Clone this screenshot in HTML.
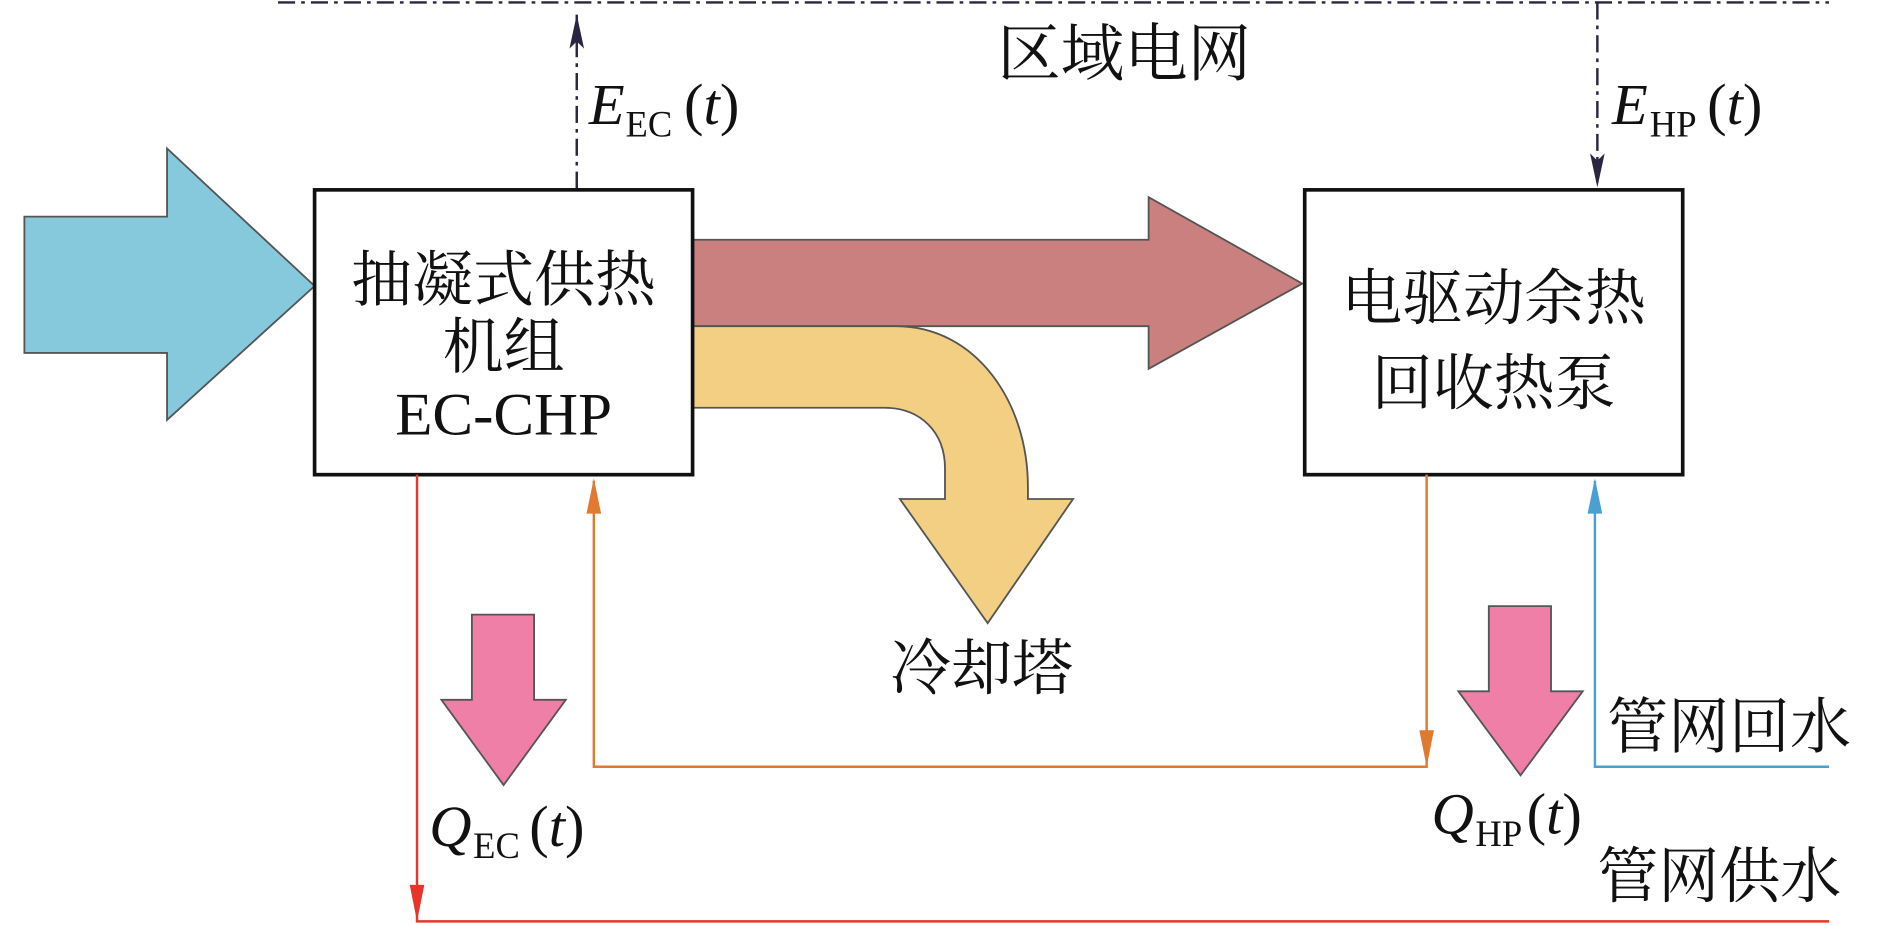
<!DOCTYPE html>
<html><head><meta charset="utf-8"><style>
html,body{margin:0;padding:0;background:#fff;width:1890px;height:925px;overflow:hidden}
svg{display:block}
text{font-family:"Liberation Serif","Noto Serif CJK SC",serif;fill:#111}
</style></head><body>
<svg width="1890" height="925" viewBox="0 0 1550 760" preserveAspectRatio="none" xmlns="http://www.w3.org/2000/svg">
<defs>
<marker id="ad" markerWidth="10" markerHeight="14" refX="5" refY="13" orient="auto-start-reverse" markerUnits="userSpaceOnUse" viewBox="0 0 10 14"><path d="M0,0 L5,14 L10,0 L5,3 Z" fill="context-stroke"/></marker>
</defs>
<!-- top grid line -->
<line x1="228" y1="2" x2="1500" y2="2" stroke="#2a2540" stroke-width="2" stroke-dasharray="14,5,3,5"/>
<!-- E arrows -->
<line x1="473" y1="155" x2="473" y2="12" stroke="#2a2540" stroke-width="2" stroke-dasharray="14,5,3,5"/>
<path d="M467,40 L473,12 L479,40 L473,34 Z" fill="#2a2540"/>
<line x1="1310" y1="2" x2="1310" y2="150" stroke="#2a2540" stroke-width="2" stroke-dasharray="14,5,3,5"/>
<path d="M1304,126 L1310,154 L1316,126 L1310,132 Z" fill="#2a2540"/>
<text x="483" y="102" font-size="48" font-style="italic">E</text><text x="513" y="112" font-size="30">EC</text><text x="561" y="102" font-size="48">(<tspan font-style="italic">t</tspan>)</text>
<text x="1322" y="102" font-size="48" font-style="italic">E</text><text x="1353" y="112" font-size="30">HP</text><text x="1400" y="102" font-size="48">(<tspan font-style="italic">t</tspan>)</text>
<text x="818" y="62" font-size="52">区域电网</text>
<!-- blue input arrow -->
<polygon points="20,178 137,178 137,122 258,235 137,345 137,290 20,290" fill="#86c8dc" stroke="#555" stroke-width="1.5"/>
<!-- red-brown arrow -->
<polygon points="566,197 942,197 942,162 1068,233 942,303 942,268 566,268" fill="#cb8080" stroke="#555" stroke-width="1.5"/>
<!-- yellow curved arrow -->
<path d="M566,268 L735,268 C800,268 843,330 843,400 L843,410 L880,410 L810,512 L738,410 L775,410 L775,385 C775,355 755,335 725,335 L566,335 Z" fill="#f2cf82" stroke="#555" stroke-width="1.5"/>
<!-- boxes -->
<rect x="258" y="156" width="310" height="234" fill="#fff" stroke="#111" stroke-width="3"/>
<rect x="1070" y="156" width="310" height="234" fill="#fff" stroke="#111" stroke-width="3"/>
<text x="413" y="247" font-size="50" text-anchor="middle">抽凝式供热</text>
<text x="413" y="302" font-size="50" text-anchor="middle">机组</text>
<text x="413" y="357" font-size="50" text-anchor="middle">EC-CHP</text>
<text x="1225" y="262" font-size="50" text-anchor="middle">电驱动余热</text>
<text x="1225" y="332" font-size="50" text-anchor="middle">回收热泵</text>
<text x="805" y="566" font-size="50" text-anchor="middle">冷却塔</text>
<!-- red supply line -->
<polyline points="342,390 342,757 1500,757" fill="none" stroke="#e8352a" stroke-width="2"/>
<path d="M336,727 L342,757 L348,727 Z" fill="#e8352a"/>
<!-- orange return to EC -->
<polyline points="1170,390 1170,630 487,630 487,395" fill="none" stroke="#e07a30" stroke-width="2"/>
<path d="M1164,600 L1170,630 L1176,600 Z" fill="#e07a30"/>
<path d="M481,422 L487,393 L493,422 Z" fill="#e07a30"/>
<!-- blue return -->
<polyline points="1500,630 1308,630 1308,395" fill="none" stroke="#4aa0d0" stroke-width="2"/>
<path d="M1302,422 L1308,393 L1314,422 Z" fill="#4aa0d0"/>
<!-- pink arrows -->
<polygon points="387,505 438,505 438,575 464,575 413,645 362,575 387,575" fill="#ef7fa6" stroke="#555" stroke-width="1.5"/>
<polygon points="1221,498 1272,498 1272,568 1298,568 1247,637 1196,568 1221,568" fill="#ef7fa6" stroke="#555" stroke-width="1.5"/>
<text x="352" y="695" font-size="48" font-style="italic">Q</text><text x="388" y="705" font-size="30">EC</text><text x="434" y="695" font-size="48">(<tspan font-style="italic">t</tspan>)</text>
<text x="1174" y="685" font-size="48" font-style="italic">Q</text><text x="1210" y="695" font-size="30">HP</text><text x="1252" y="685" font-size="48">(<tspan font-style="italic">t</tspan>)</text>
<text x="1318" y="614" font-size="50">管网回水</text>
<text x="1310" y="737" font-size="50">管网供水</text>
</svg>
</body></html>
